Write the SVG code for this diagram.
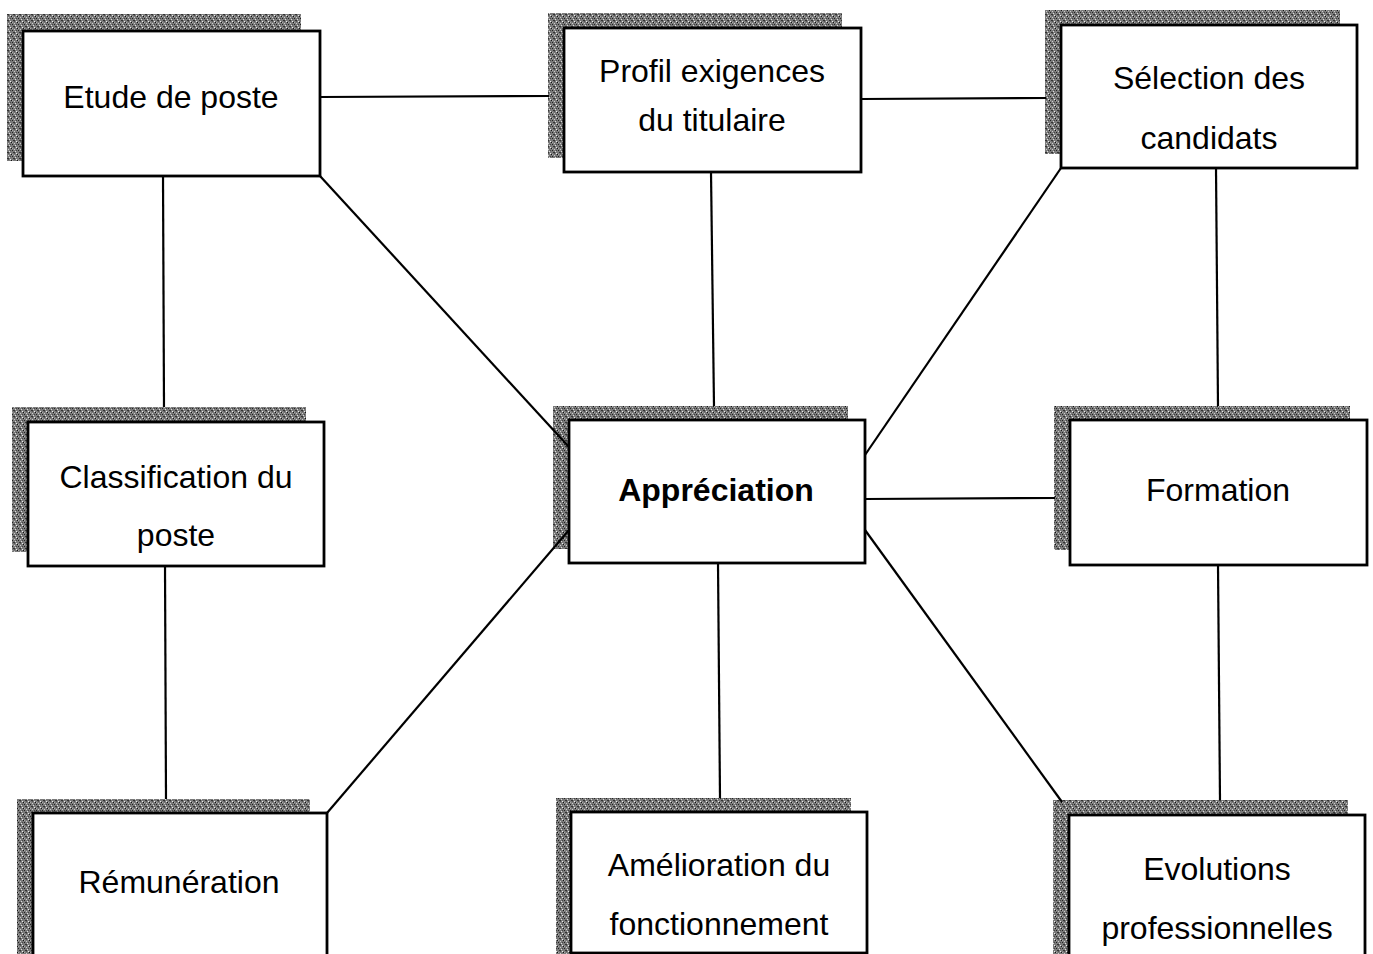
<svg xmlns="http://www.w3.org/2000/svg" width="1373" height="954" viewBox="0 0 1373 954">
<defs>
<pattern id="grain" width="6" height="6" patternUnits="userSpaceOnUse">
<rect width="6" height="6" fill="#7a7a7a"/>
<rect x="0" y="0" width="1" height="1" fill="#222"/>
<rect x="3" y="1" width="1" height="1" fill="#ddd"/>
<rect x="1" y="2" width="2" height="1" fill="#333"/>
<rect x="4" y="3" width="1" height="1" fill="#eee"/>
<rect x="5" y="4" width="1" height="1" fill="#111"/>
<rect x="2" y="5" width="1" height="1" fill="#ccc"/>
<rect x="0" y="4" width="1" height="1" fill="#aaa"/>
<rect x="4" y="0" width="1" height="1" fill="#444"/>
<rect x="2" y="3" width="1" height="1" fill="#555"/>
</pattern>
<style>
.sh{fill:url(#grain);}
.bx{fill:#fff;stroke:#000;stroke-width:2.8;}
.t{font-family:"Liberation Sans",Arial,sans-serif;font-size:32px;fill:#000;text-anchor:middle;}
.b{font-weight:bold;}
.c{stroke:#000;stroke-width:2.2;fill:none;}
</style>
</defs>
<rect width="1373" height="954" fill="#fff"/>
<g id="etude">
<rect class="sh" x="7" y="14" width="294" height="147"/>
<rect class="bx" x="23" y="31" width="297" height="145"/>
<text class="t" x="171" y="108">Etude de poste</text>
</g>
<g id="profil">
<rect class="sh" x="548" y="13" width="294" height="145"/>
<rect class="bx" x="564" y="28" width="297" height="144"/>
<text class="t" x="712" y="82">Profil exigences</text>
<text class="t" x="712" y="131">du titulaire</text>
</g>
<g id="selection">
<rect class="sh" x="1045" y="10" width="295" height="144"/>
<rect class="bx" x="1061" y="25" width="296" height="143"/>
<text class="t" x="1209" y="89">Sélection des</text>
<text class="t" x="1209" y="149">candidats</text>
</g>
<g id="classification">
<rect class="sh" x="12" y="407" width="294" height="145"/>
<rect class="bx" x="28" y="422" width="296" height="144"/>
<text class="t" x="176" y="488">Classification du</text>
<text class="t" x="176" y="546">poste</text>
</g>
<g id="appreciation">
<rect class="sh" x="553" y="406" width="295" height="143"/>
<rect class="bx" x="569" y="420" width="296" height="143"/>
<text class="t b" x="716" y="501">Appréciation</text>
</g>
<g id="formation">
<rect class="sh" x="1054" y="406" width="296" height="144"/>
<rect class="bx" x="1070" y="420" width="297" height="145"/>
<text class="t" x="1218" y="501">Formation</text>
</g>
<g id="remuneration">
<rect class="sh" x="17" y="799" width="293" height="155"/>
<rect class="bx" x="33" y="813" width="294" height="145"/>
<text class="t" x="179" y="893">Rémunération</text>
</g>
<g id="amelioration">
<rect class="sh" x="556" y="798" width="295" height="156"/>
<rect class="bx" x="571" y="812" width="296" height="141"/>
<text class="t" x="719" y="876">Amélioration du</text>
<text class="t" x="719" y="935">fonctionnement</text>
</g>
<g id="evolutions">
<rect class="sh" x="1053" y="800" width="295" height="154"/>
<rect class="bx" x="1069" y="815" width="296" height="145"/>
<text class="t" x="1217" y="880">Evolutions</text>
<text class="t" x="1217" y="939">professionnelles</text>
</g>
<g id="connectors">
<line class="c" x1="320" y1="97" x2="549" y2="96"/>
<line class="c" x1="861" y1="99" x2="1046" y2="98"/>
<line class="c" x1="163" y1="176" x2="164" y2="407"/>
<line class="c" x1="165" y1="566" x2="166" y2="799"/>
<line class="c" x1="711" y1="172" x2="714" y2="406"/>
<line class="c" x1="1216" y1="168" x2="1218" y2="406"/>
<line class="c" x1="1218" y1="565" x2="1220" y2="800"/>
<line class="c" x1="718" y1="563" x2="720" y2="798"/>
<line class="c" x1="865" y1="499" x2="1055" y2="498"/>
<line class="c" x1="320" y1="176" x2="569" y2="447"/>
<line class="c" x1="1061" y1="168" x2="865" y2="455"/>
<line class="c" x1="569" y1="530" x2="327" y2="813"/>
<line class="c" x1="865" y1="530" x2="1062" y2="802"/>
</g>
</svg>
